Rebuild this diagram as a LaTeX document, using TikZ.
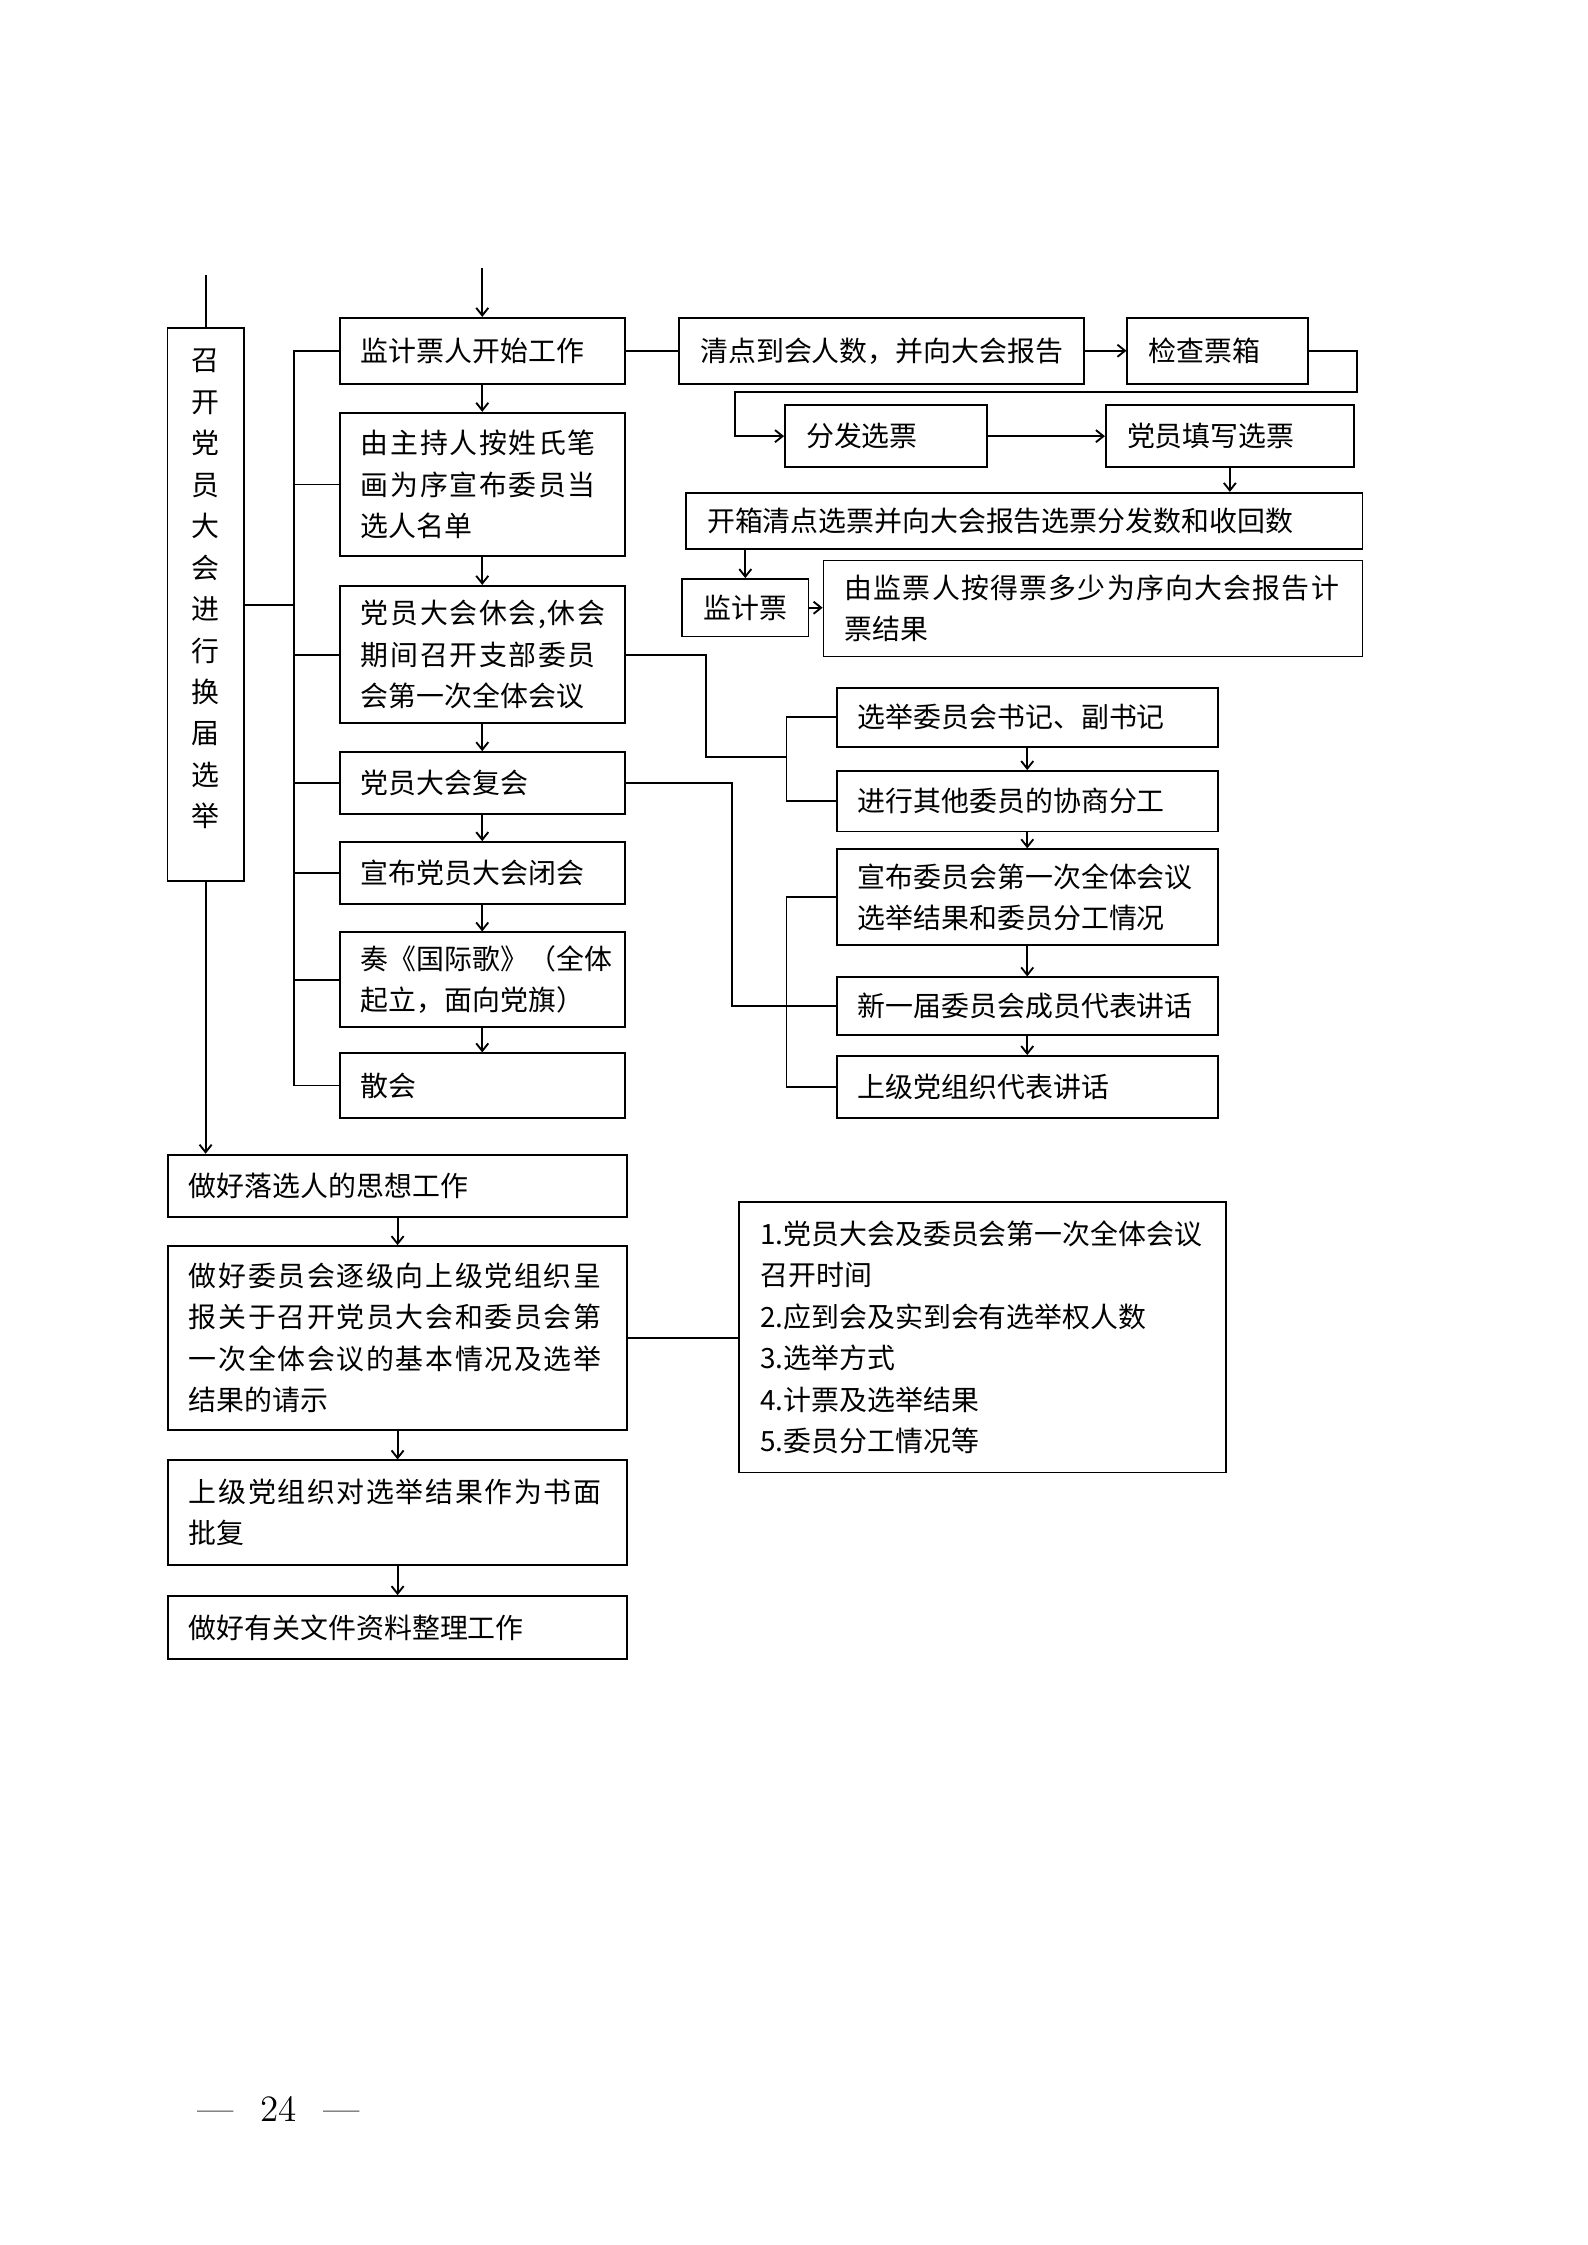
\documentclass[tikz,border=0pt]{standalone}
\usepackage{fontspec}
\newfontfamily\cjk{Noto Sans CJK SC}
\usetikzlibrary{arrows.meta,calc}
\newcommand{\jline}[2][6]{{\addfontfeature{LetterSpace=#1}#2}}
\tikzset{
  box/.style={draw=black, line width=0.7pt, align=left, inner xsep=0.28cm, inner ysep=0pt, font=\cjk\fontsize{10.5}{15.6}\selectfont},
  lbox/.style={box, text width=3.21cm},
  cbox/.style={box, text width=4.48cm},
  dbox/.style={box, text width=5.52cm},
  line/.style={line width=0.7pt},
  arrow/.style={line, -{Straight Barb[length=1mm,width=1.6mm]}}
}
\begin{document}
\begin{tikzpicture}
  \useasboundingbox (0,0) rectangle (21,-29.7);
  \node[box, align=center, text width=0.37cm, inner xsep=0.32cm, minimum height=7.32cm] (v) at (2.72,-8.00) {召\\开\\党\\员\\大\\会\\进\\行\\换\\届\\选\\举\rule[-0.44cm]{0pt}{0pt}};
  \node[lbox, minimum height=0.87cm] (b1) at (6.38,-4.64) {监计票人开始工作};
  \node[lbox, minimum height=1.90cm] (b2) at (6.38,-6.41) {\jline{由主持人按姓氏笔}\\\jline{画为序宣布委员当}\\选人名单};
  \node[lbox, minimum height=1.82cm] (b3) at (6.38,-8.66) {\jline{党员大会休会,休会}\\\jline{期间召开支部委员}\\会第一次全体会议};
  \node[lbox, minimum height=0.82cm] (b4) at (6.38,-10.36) {党员大会复会};
  \node[lbox, minimum height=0.82cm] (b5) at (6.38,-11.55) {宣布党员大会闭会};
  \node[lbox, minimum height=1.25cm] (b6) at (6.38,-12.96) {奏《国际歌》（全体\\起立，面向党旗）};
  \node[lbox, minimum height=0.85cm] (b7) at (6.38,-14.36) {散会};

  \node[box, text width=4.79cm, minimum height=0.87cm] (r1) at (11.66,-4.64) {清点到会人数，并向大会报告};
  \node[box, text width=1.83cm, minimum height=0.87cm] (r2) at (16.11,-4.64) {检查票箱};
  \node[box, text width=2.11cm, minimum height=0.82cm] (r3) at (11.72,-5.77) {分发选票};
  \node[box, text width=2.72cm, minimum height=0.82cm] (r4) at (16.27,-5.77) {党员填写选票};
  \node[box, text width=8.39cm, minimum height=0.74cm] (r5) at (13.55,-6.89) {开箱清点选票并向大会报告选票分发数和收回数};
  \node[box, text width=1.11cm, minimum height=0.76cm] (r6) at (9.86,-8.04) {监计票};
  \node[box, text width=6.57cm, minimum height=1.27cm] (r7) at (14.46,-8.05) {\jline[4.5]{由监票人按得票多少为序向大会报告计}\\票结果};

  \node[cbox, minimum height=0.78cm] (c1) at (13.59,-9.49) {选举委员会书记、副书记};
  \node[cbox, minimum height=0.80cm] (c2) at (13.59,-10.60) {进行其他委员的协商分工};
  \node[cbox, minimum height=1.27cm] (c3) at (13.59,-11.87) {宣布委员会第一次全体会议\\选举结果和委员分工情况};
  \node[cbox, minimum height=0.76cm] (c4) at (13.59,-13.31) {新一届委员会成员代表讲话};
  \node[cbox, minimum height=0.82cm] (c5) at (13.59,-14.38) {上级党组织代表讲话};

  \node[dbox, minimum height=0.83cm] (d1) at (5.26,-15.69) {做好落选人的思想工作};
  \node[dbox, minimum height=2.43cm] (d2) at (5.26,-17.70) {\jline{做好委员会逐级向上级党组织呈}\\\jline{报关于召开党员大会和委员会第}\\\jline{一次全体会议的基本情况及选举}\\结果的请示};
  \node[dbox, minimum height=1.38cm] (d3) at (5.26,-20.01) {\jline{上级党组织对选举结果作为书面}\\批复};
  \node[dbox, minimum height=0.83cm] (d4) at (5.26,-21.53) {做好有关文件资料整理工作};
  \node[box, text width=5.88cm, minimum height=3.58cm] (n) at (13.00,-17.69) {1.党员大会及委员会第一次全体会议\\召开时间\\2.应到会及实到会有选举权人数\\3.选举方式\\4.计票及选举结果\\5.委员分工情况等};

  \node[font=\fontsize{14}{16}\selectfont] (pg) at (3.685,-27.90) {---\hspace{3.5mm}24\hspace{3.5mm}---};

  \coordinate (vtop) at (2.72,-3.64);
  \coordinate (start) at (6.38,-3.54);
  \coordinate (tr) at (3.885,0);
  \coordinate (k1) at (17.95,-5.19);
  \coordinate (k2) at (9.72,-5.19);
  \coordinate (j1) at (9.34,-10.01);
  \coordinate (j2) at (9.685,0);
  \coordinate (sx) at (10.405,0);

  \draw[line] (vtop) -- (v.north);
  \draw[arrow] (start) -- (b1.north);
  \draw[line] (b1.west) -| (tr |- b7.west) -- (b7.west);
  \foreach \n in {b2,b3,b4,b5,b6}
    \draw[line] (\n.west) -- (tr |- \n.west);
  \draw[line] (v.east) -- (tr |- v.east);
  \foreach \a/\b in {b1/b2,b2/b3,b3/b4,b4/b5,b5/b6,b6/b7}
    \draw[arrow] (\a.south) -- (\b.north);

  \draw[arrow] (v.south) -- (v.south |- d1.north);
  \foreach \a/\b in {d1/d2,d2/d3,d3/d4}
    \draw[arrow] (\a.south) -- (\b.north);
  \draw[line] (d2.east) -- (d2.east -| n.west);

  \draw[line] (b1.east) -- (r1.west);
  \draw[arrow] (r1.east) -- (r2.west);
  \draw[arrow] (r2.east) -| (k1) -- (k2) |- (r3.west);
  \draw[arrow] (r3.east) -- (r4.west);
  \draw[arrow] (r4.south) -- (r4.south |- r5.north);
  \draw[arrow] (r6.north |- r5.south) -- (r6.north);
  \draw[arrow] (r6.east) -- (r6.east -| r7.west);

  \draw[line] (b3.east) -| (j1) -- (sx |- j1);
  \draw[line] (c1.west) -| (sx |- c2.west) -- (c2.west);
  \draw[line] (c3.west) -| (sx |- c5.west) -- (c5.west);
  \draw[line] (b4.east) -| (j2 |- c4.west) -- (c4.west);
  \foreach \a/\b in {c1/c2,c2/c3,c3/c4,c4/c5}
    \draw[arrow] (\a.south) -- (\b.north);
\end{tikzpicture}
\end{document}
